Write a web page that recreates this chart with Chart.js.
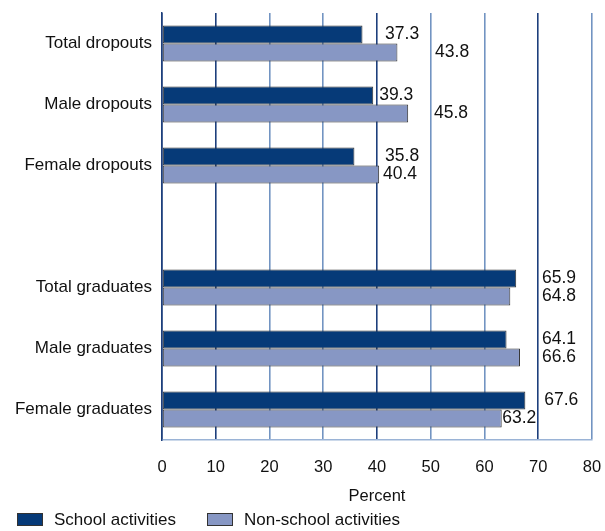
<!DOCTYPE html>
<html>
<head>
<meta charset="utf-8">
<script src="https://cdn.jsdelivr.net/npm/chart.js@4.4.0/dist/chart.umd.min.js"></script>
<style>
  html, body { margin: 0; padding: 0; background: #ffffff; }
  #wrap { width: 605px; height: 531px; position: relative; }
</style>
</head>
<body>
<div id="wrap"><canvas id="chart"></canvas></div>
<script>
// Participation in activities, percent
const categories = ['Total dropouts', 'Male dropouts', 'Female dropouts', '', 'Total graduates', 'Male graduates', 'Female graduates'];
const schoolActivities = [37.3, 39.3, 35.8, null, 65.9, 64.1, 67.6];
const nonSchoolActivities = [43.8, 45.8, 40.4, null, 64.8, 66.6, 63.2];
const seriesNames = ['School activities', 'Non-school activities'];
const xTicks = [0, 10, 20, 30, 40, 50, 60, 70, 80];

// Left edge of each value label, in axis units
const schoolLabelAt = [41.5, 40.4, 41.5, null, 70.7, 70.7, 71.1];
const nonSchoolLabelAt = [50.8, 50.6, 41.1, null, 70.7, 70.7, 63.3];

const FONT = '"Liberation Sans", Arial, Helvetica, sans-serif';
const NAVY = '#063a78';
const LAVENDER = '#8797c4';
const GRID_DARK = '#1d3f7c';
const GRID_LIGHT = '#7294c2';

const valueLabels = {
  id: 'valueLabels',
  afterDatasetsDraw(chart) {
    const { ctx, scales: { x } } = chart;
    ctx.save();
    ctx.font = '17.5px ' + FONT;
    ctx.fillStyle = '#111111';
    ctx.textAlign = 'left';
    ctx.textBaseline = 'middle';
    [schoolLabelAt, nonSchoolLabelAt].forEach((anchors, di) => {
      const values = chart.data.datasets[di].data;
      chart.getDatasetMeta(di).data.forEach((bar, i) => {
        if (values[i] == null) return;
        ctx.fillText(values[i].toFixed(1), x.getPixelForValue(anchors[i]), bar.y);
      });
    });
    ctx.restore();
  }
};

// Legend row under the axis title
const legendRow = {
  id: 'legendRow',
  afterDraw(chart) {
    const { ctx } = chart;
    const starts = [17, 207];
    ctx.save();
    ctx.font = '17px ' + FONT;
    ctx.textAlign = 'left';
    ctx.textBaseline = 'middle';
    chart.data.datasets.forEach((ds, i) => {
      const bx = starts[i];
      ctx.fillStyle = ds.backgroundColor;
      ctx.fillRect(bx, 513, 26, 13);
      ctx.strokeStyle = '#333333';
      ctx.lineWidth = 1;
      ctx.strokeRect(bx + 0.5, 513.5, 25, 12);
      ctx.fillStyle = '#111111';
      ctx.fillText(ds.label, bx + 37, 520);
    });
    ctx.restore();
  }
};

new Chart(document.getElementById('chart'), {
  type: 'bar',
  data: {
    labels: categories,
    datasets: [
      {
        label: seriesNames[0],
        data: schoolActivities,
        backgroundColor: NAVY,
        borderColor: '#333333',
        borderWidth: 1,
        borderSkipped: false
      },
      {
        label: seriesNames[1],
        data: nonSchoolActivities,
        backgroundColor: LAVENDER,
        borderColor: '#333333',
        borderWidth: 1,
        borderSkipped: false
      }
    ]
  },
  options: {
    indexAxis: 'y',
    responsive: true,
    maintainAspectRatio: false,
    animation: false,
    devicePixelRatio: 1,
    categoryPercentage: 0.59,
    barPercentage: 1.0,
    layout: { padding: { top: 13, right: 13, bottom: 25, left: 0 } },
    plugins: {
      legend: { display: false },
      tooltip: { enabled: false }
    },
    scales: {
      x: {
        type: 'linear',
        min: 0,
        max: 80,
        afterBuildTicks(scale) { scale.ticks = xTicks.map(v => ({ value: v })); },
        afterFit(scale) {
          scale.height = 66;
          scale.paddingLeft = 0;
          scale.paddingRight = 0;
        },
        ticks: {
          font: { size: 16.5, family: FONT },
          color: '#111111',
          padding: 18
        },
        grid: {
          drawTicks: false,
          lineWidth: 1.6,
          color: (c) => {
            const v = c.tick ? c.tick.value : null;
            return (v === 0 || v === 10 || v === 40 || v === 70) ? GRID_DARK : GRID_LIGHT;
          }
        },
        border: { display: true, color: '#9ab3d6', width: 1.5 },
        title: {
          display: true,
          text: 'Percent',
          font: { size: 16.5, family: FONT },
          color: '#111111',
          padding: { top: 0, bottom: 0 }
        }
      },
      y: {
        afterFit(scale) {
          scale.width = 162;
          scale.paddingTop = 0;
          scale.paddingBottom = 0;
        },
        ticks: {
          font: { size: 17, family: FONT },
          color: '#111111',
          padding: 10
        },
        grid: { display: false, drawTicks: false },
        border: { display: true, color: GRID_DARK, width: 1.5 }
      }
    }
  },
  plugins: [valueLabels, legendRow]
});
</script>
</body>
</html>
